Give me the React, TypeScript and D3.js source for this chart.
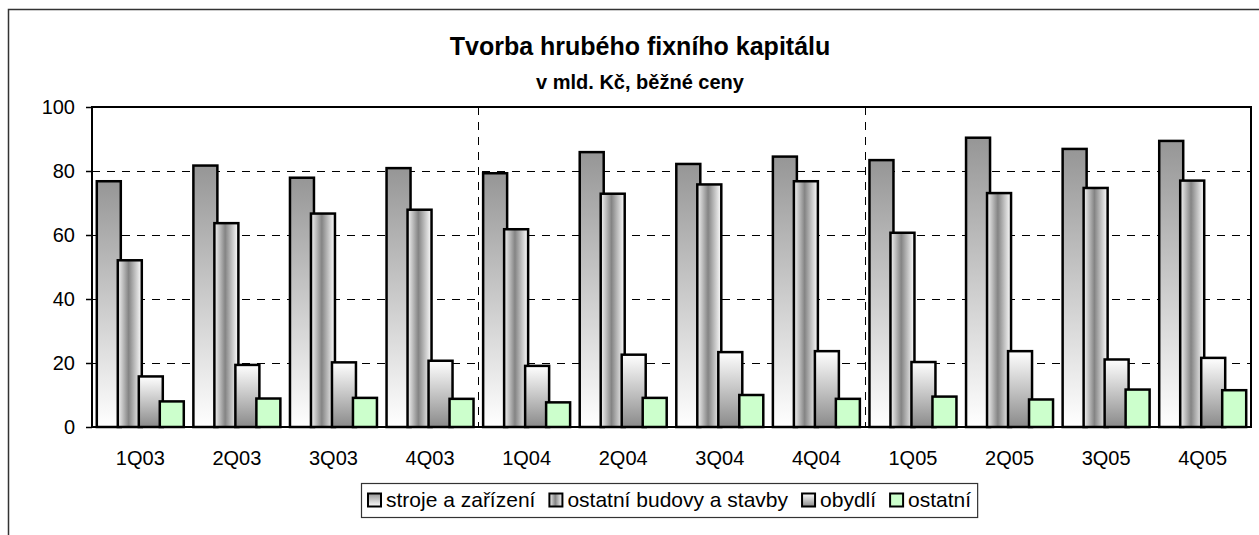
import { useRef, useEffect } from "react";
import * as d3 from "d3";

// --- data ---
const categories = ["1Q03", "2Q03", "3Q03", "4Q03", "1Q04", "2Q04", "3Q04", "4Q04", "1Q05", "2Q05", "3Q05", "4Q05"];
const strojeValues = [76.8, 81.7, 77.9, 80.9, 79.3, 85.9, 82.2, 84.5, 83.4, 90.4, 86.9, 89.4];
const budovyValues = [52.1, 63.7, 66.7, 67.9, 61.8, 72.9, 75.8, 76.8, 60.7, 73.1, 74.7, 77.0];
const obydliValues = [15.8, 19.4, 20.2, 20.7, 19.1, 22.6, 23.4, 23.7, 20.3, 23.7, 21.1, 21.6];
const ostatniValues = [8.0, 8.9, 9.1, 8.8, 7.7, 9.1, 10.0, 8.8, 9.5, 8.6, 11.7, 11.5];
const seriesNames = ["stroje a zařízení", "ostatní budovy a stavby", "obydlí", "ostatní"];
const yTicks = [0, 20, 40, 60, 80, 100];
const yearBreaks = ["1Q04", "1Q05"];
const titleText = "Tvorba hrubého fixního kapitálu";
const subtitleText = "v mld. Kč, běžné ceny";

const W = 1259;
const H = 535;
const plot = { left: 92, right: 1251, top: 107, bottom: 427 };
const FONT = "'Liberation Sans', Arial, Helvetica, sans-serif";
const fills = ["url(#g-stroje)", "url(#g-budovy)", "url(#g-obydli)", "#ccffcc"];

export default function App() {
  const svgRef = useRef<SVGSVGElement>(null);

  useEffect(() => {
    const svg = d3.select(svgRef.current);
    if (!svg.node()) return;
    svg.selectAll("*").remove();

    // gradients like the Excel fills
    const defs = svg.append("defs");
    const gStroje = defs.append("linearGradient").attr("id", "g-stroje")
      .attr("x1", 0).attr("y1", 0).attr("x2", 0).attr("y2", 1);
    gStroje.append("stop").attr("offset", "0%").attr("stop-color", "#969696");
    gStroje.append("stop").attr("offset", "100%").attr("stop-color", "#ffffff");

    const gBudovy = defs.append("linearGradient").attr("id", "g-budovy")
      .attr("x1", 0).attr("y1", 0).attr("x2", 1).attr("y2", 0);
    gBudovy.append("stop").attr("offset", "0%").attr("stop-color", "#f4f4f4");
    gBudovy.append("stop").attr("offset", "45%").attr("stop-color", "#848484");
    gBudovy.append("stop").attr("offset", "100%").attr("stop-color", "#ffffff");

    const gObydli = defs.append("linearGradient").attr("id", "g-obydli")
      .attr("x1", 0).attr("y1", 0).attr("x2", 0).attr("y2", 1);
    gObydli.append("stop").attr("offset", "0%").attr("stop-color", "#ffffff");
    gObydli.append("stop").attr("offset", "100%").attr("stop-color", "#8a8a8a");

    // chart area
    svg.append("rect")
      .attr("x", 8.5).attr("y", 9.5).attr("width", 1262).attr("height", 540)
      .attr("fill", "#fff").attr("stroke", "#333").attr("stroke-width", 1.5);

    // titles
    svg.append("text")
      .attr("x", 640).attr("y", 55).attr("text-anchor", "middle")
      .attr("font-family", FONT).attr("font-size", 25).attr("font-weight", "bold")
      .text(titleText);
    svg.append("text")
      .attr("x", 640).attr("y", 89).attr("text-anchor", "middle")
      .attr("font-family", FONT).attr("font-size", 20).attr("font-weight", "bold")
      .text(subtitleText);

    const x = d3.scaleBand<string>().domain(categories).range([plot.left, plot.right]).padding(0);
    const y = d3.scaleLinear().domain([0, 100]).range([plot.bottom, plot.top]);

    // gridlines
    svg.append("g").selectAll("line")
      .data(yTicks.filter((t) => t > 0 && t < 100))
      .join("line")
      .attr("x1", plot.left).attr("x2", plot.right)
      .attr("y1", (d) => Math.round(y(d)) + 0.5).attr("y2", (d) => Math.round(y(d)) + 0.5)
      .attr("stroke", "#000").attr("stroke-width", 1).attr("stroke-dasharray", "8,7");
    svg.append("g").selectAll("line")
      .data(yearBreaks)
      .join("line")
      .attr("x1", (d) => Math.round(x(d)!) + 0.5).attr("x2", (d) => Math.round(x(d)!) + 0.5)
      .attr("y1", plot.top).attr("y2", plot.bottom)
      .attr("stroke", "#000").attr("stroke-width", 1).attr("stroke-dasharray", "8,7");

    // bars: overlap 12.5 %, gap 40 %
    const overlap = 0.125;
    const gap = 0.4;
    const bw = x.bandwidth();
    const barW = bw / (1 + 3 * (1 - overlap) + gap);
    const step = barW * (1 - overlap);
    const groupW = barW + 3 * step;
    const seriesValues = [strojeValues, budovyValues, obydliValues, ostatniValues];

    seriesValues.forEach((vals, si) => {
      svg.append("g").selectAll("rect")
        .data(vals.map((v, i) => ({ cat: categories[i], v })))
        .join("rect")
        .attr("x", (d) => x(d.cat)! + (bw - groupW) / 2 + si * step)
        .attr("y", (d) => y(d.v))
        .attr("width", barW)
        .attr("height", (d) => y(0) - y(d.v))
        .attr("fill", fills[si])
        .attr("stroke", "#000")
        .attr("stroke-width", 2.5);
    });

    // plot border
    svg.append("rect")
      .attr("x", plot.left).attr("y", plot.top)
      .attr("width", plot.right - plot.left).attr("height", plot.bottom - plot.top)
      .attr("fill", "none").attr("stroke", "#000").attr("stroke-width", 2);

    // axes
    const yAxis = svg.append("g")
      .attr("transform", `translate(${plot.left},0)`)
      .call(d3.axisLeft(y).tickValues(yTicks).tickSize(6).tickPadding(11));
    yAxis.select(".domain").remove();
    yAxis.selectAll("line").attr("stroke", "#000").attr("stroke-width", 1.5);
    yAxis.selectAll("text").attr("font-family", FONT).attr("font-size", 20).attr("fill", "#000");

    const xAxis = svg.append("g")
      .attr("transform", `translate(0,${plot.bottom})`)
      .call(d3.axisBottom(x).tickSize(0).tickPadding(24));
    xAxis.select(".domain").remove();
    xAxis.selectAll("text").attr("font-family", FONT).attr("font-size", 20).attr("fill", "#000");

    // legend
    const legend = svg.append("g");
    const legTop = 483;
    const legH = 34;
    const legLeft = 361;
    const sym = 13;
    let cx = legLeft + 7;
    const cy = legTop + legH / 2;
    const box = legend.append("rect")
      .attr("x", legLeft + 0.5).attr("y", legTop + 0.5).attr("height", legH)
      .attr("fill", "#fff").attr("stroke", "#333").attr("stroke-width", 1.2);
    seriesNames.forEach((name, si) => {
      legend.append("rect")
        .attr("x", cx).attr("y", cy - sym / 2).attr("width", sym).attr("height", sym)
        .attr("fill", fills[si]).attr("stroke", "#000").attr("stroke-width", 2);
      const t = legend.append("text")
        .attr("x", cx + sym + 5).attr("y", cy + 7.3)
        .attr("font-family", FONT).attr("font-size", 21).attr("fill", "#000")
        .text(name);
      const tw = (t.node() as SVGTextElement).getComputedTextLength();
      cx = cx + sym + 5 + tw + (si < seriesNames.length - 1 ? 14 : 6);
    });
    box.attr("width", cx - legLeft);
  }, []);

  return (
    <svg
      ref={svgRef}
      width={W}
      height={H}
      viewBox={`0 0 ${W} ${H}`}
      style={{ position: "absolute", left: 0, top: 0, display: "block", background: "#fff" }}
    />
  );
}
